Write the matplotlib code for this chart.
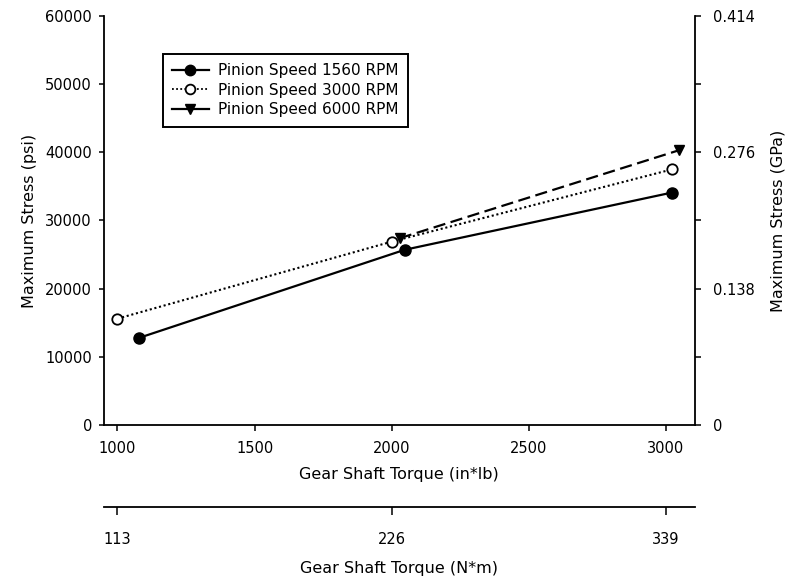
import numpy as np
import matplotlib
matplotlib.use("Agg")
import matplotlib.pyplot as plt
from matplotlib.lines import Line2D

plt.rcParams['font.family'] = ['DejaVu Sans']

# dados
torque_1560 = [1080, 2047, 3022]
stress_1560 = [12800, 25700, 34100]

torque_3000 = [1000, 2000, 3022]
stress_3000 = [15600, 26900, 37500]

torque_6000 = [2029, 3047]
stress_6000 = [27400, 40300]

legend_labels = ["Pinion Speed 1560 RPM", "Pinion Speed 3000 RPM", "Pinion Speed 6000 RPM"]

psi_ticks = [0, 10000, 20000, 30000, 40000, 50000, 60000]
gpa_ticks = [0, 0.138, 0.276, 0.414]
gpa_minor = [0.069, 0.207, 0.345]
inlb_ticks = [1000, 1500, 2000, 2500, 3000]
nm_ticks = [113, 226, 339]

fig = plt.figure(figsize=(7.86, 5.81), dpi=100)
ax = fig.add_axes([0.132, 0.2685, 0.752, 0.704])

# curvas (6000 primeiro para ficar atras)
ax.plot(torque_6000, stress_6000, color='black', lw=1.6, dashes=(5.5, 2.5),
        marker='v', ms=7, zorder=2)
ax.plot(torque_3000, stress_3000, color='black', lw=1.5, linestyle=(0, (1, 1.3)),
        marker='o', ms=7.5, mfc='white', mec='black', mew=1.3, zorder=3)
ax.plot(torque_1560, stress_1560, color='black', lw=1.6, linestyle='-',
        marker='o', ms=8, mfc='black', mec='black', zorder=4)

ax.set_xlim(950, 3105)
ax.set_ylim(0, 60000)
ax.set_xticks(inlb_ticks)
ax.set_yticks(psi_ticks)
ax.set_yticklabels([str(v) for v in psi_ticks])

for s in ['left', 'bottom']:
    ax.spines[s].set_linewidth(1.3)
ax.spines['top'].set_visible(False)
ax.spines['right'].set_visible(False)

ax.tick_params(axis='x', direction='out', length=4.5, width=1.1, pad=7, labelsize=10.5)
ax.tick_params(axis='y', direction='out', length=3.5, width=1.1, pad=5, labelsize=10.5)

ax.set_xlabel("Gear Shaft Torque (in*lb)", fontsize=11.5, labelpad=8)
ax.set_ylabel("Maximum Stress (psi)", fontsize=11.5, labelpad=6)

# eixo da direita em GPa
ax2 = ax.twinx()
ax2.set_ylim(0, 0.414)
ax2.set_yticks(gpa_ticks)
ax2.set_yticklabels(["0", "0.138", "0.276", "0.414"])
ax2.set_yticks(gpa_minor, minor=True)
for s in ['top', 'left', 'bottom']:
    ax2.spines[s].set_visible(False)
ax2.spines['right'].set_linewidth(1.3)
ax2.tick_params(axis='y', which='major', direction='out', length=4, width=1.1, pad=9, labelsize=10.5)
ax2.tick_params(axis='y', which='minor', direction='out', length=4, width=1.1)
ax2.set_ylabel("Maximum Stress (GPa)", fontsize=11.5, labelpad=11, rotation=90)

# segundo eixo x em N*m
sec = ax.secondary_xaxis(-0.2, functions=(lambda x: x * 0.113, lambda x: x / 0.113))
sec.set_xticks(nm_ticks)
sec.spines['bottom'].set_linewidth(1.3)
sec.tick_params(axis='x', direction='out', length=6, width=1.1, pad=12, labelsize=10.5)
sec.set_xlabel("Gear Shaft Torque (N*m)", fontsize=11.5, labelpad=10)

# legenda
handles = [
    Line2D([], [], color='black', lw=1.6, marker='o', ms=7.5, mfc='black'),
    Line2D([], [], color='black', lw=1.3, linestyle=(0, (1, 1.3)), marker='o', ms=7,
           mfc='white', mec='black', mew=1.3),
    Line2D([], [], color='black', lw=1.6, marker='v', ms=6.5),
]
leg = ax.legend(handles, legend_labels, loc='upper left', bbox_to_anchor=(0.1, 0.907),
                borderaxespad=0, fancybox=False, edgecolor='black', framealpha=1,
                fontsize=11, handlelength=2.4, handletextpad=0.6, labelspacing=0.3,
                borderpad=0.6)
leg.get_frame().set_linewidth(1.4)

fig.savefig("out.png", dpi=100)
